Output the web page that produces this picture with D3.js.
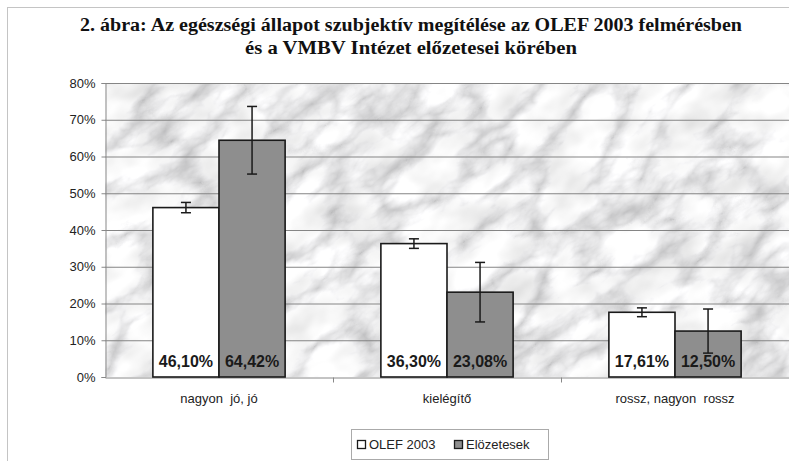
<!DOCTYPE html>
<html>
<head>
<meta charset="utf-8">
<script src="https://cdn.jsdelivr.net/npm/d3@7"></script>
<style>
  body { margin: 0; background: #fff; }
  svg { display: block; }
</style>
</head>
<body>
<svg id="chart"></svg>
<script>
// chart data
const categories = ["nagyon  jó, jó", "kielégítő", "rossz, nagyon  rossz"];
const seriesNames = ["OLEF 2003", "Elözetesek"];
const olefValues = [46.10, 36.30, 17.61];
const elozValues = [64.42, 23.08, 12.50];
const olefErrors = [1.4, 1.3, 1.2];
const elozErrors = [9.2, 8.1, 6.0];
const yTicks = [0, 10, 20, 30, 40, 50, 60, 70, 80];
const titleLines = [
  "2. ábra: Az egészségi állapot szubjektív megítélése az OLEF 2003 felmérésben",
  "és a VMBV Intézet előzetesei körében"
];

const width = 789, height = 461;
const plot = { left: 105, right: 789, top: 83, bottom: 377 };
const seriesColors = ["#ffffff", "#8e8e8e"];

const svg = d3.select("#chart")
  .attr("width", width)
  .attr("height", height);

const huFormat = d3.formatLocale({ decimal: ",", thousands: " ", grouping: [3], currency: ["", " Ft"] });
const pct2 = v => huFormat.format(".2f")(v) + "%";

// marble texture for the plot background: thin veins times a soft mottle
const defs = svg.append("defs");
const marble = defs.append("filter").attr("id", "marble")
  .attr("x", 0).attr("y", 0).attr("width", 1).attr("height", 1);
marble.append("feTurbulence")
  .attr("type", "turbulence")
  .attr("baseFrequency", "0.011 0.02")
  .attr("numOctaves", 5)
  .attr("seed", 11)
  .attr("result", "veins");
marble.append("feColorMatrix")
  .attr("in", "veins")
  .attr("type", "matrix")
  .attr("values", "1.1 0 0 0 0.6  1.1 0 0 0 0.6  1.1 0 0 0 0.61  0 0 0 0 1")
  .attr("result", "veinsGray");
marble.append("feTurbulence")
  .attr("type", "fractalNoise")
  .attr("baseFrequency", "0.02 0.03")
  .attr("numOctaves", 3)
  .attr("seed", 3)
  .attr("result", "mottle");
marble.append("feColorMatrix")
  .attr("in", "mottle")
  .attr("type", "matrix")
  .attr("values", "0.5 0 0 0 0.68  0.5 0 0 0 0.68  0.5 0 0 0 0.68  0 0 0 0 1")
  .attr("result", "mottleGray");
marble.append("feBlend")
  .attr("in", "veinsGray")
  .attr("in2", "mottleGray")
  .attr("mode", "multiply");
defs.append("clipPath").attr("id", "plotClip")
  .append("rect")
  .attr("x", plot.left).attr("y", plot.top)
  .attr("width", plot.right - plot.left).attr("height", plot.bottom - plot.top);

// outer frame
svg.append("rect")
  .attr("x", 7.5).attr("y", 7.5)
  .attr("width", width + 10).attr("height", height + 10)
  .attr("fill", "#fff").attr("stroke", "#c4c4c4");

svg.append("g").attr("clip-path", "url(#plotClip)")
  .append("rect")
  .attr("x", -200).attr("y", -300)
  .attr("width", 1400).attr("height", 1000)
  .attr("transform", "rotate(-35 447 230)")
  .attr("filter", "url(#marble)");

// title
const titleWidths = [662, 332];
svg.append("g").selectAll("text")
  .data(titleLines)
  .enter().append("text")
    .attr("x", 411)
    .attr("y", (d, i) => 31 + i * 23)
    .attr("text-anchor", "middle")
    .attr("font-family", "'Liberation Serif', 'DejaVu Serif', serif")
    .attr("font-weight", "bold")
    .attr("font-size", 18.5)
    .attr("textLength", (d, i) => titleWidths[i])
    .attr("lengthAdjust", "spacingAndGlyphs")
    .attr("fill", "#111")
    .text(d => d);

// scales
const x0 = d3.scaleBand().domain(categories).range([plot.left, plot.right]);
const x1 = d3.scaleBand().domain(seriesNames)
  .range([x0.bandwidth() * 0.21, x0.bandwidth() * 0.79]);
const y = d3.scaleLinear().domain([0, 80]).range([plot.bottom, plot.top]);

// gridlines
svg.append("g").selectAll("line")
  .data(yTicks.filter(t => t > 0))
  .enter().append("line")
    .attr("x1", plot.left).attr("x2", plot.right)
    .attr("y1", d => y(d) + 0.5).attr("y2", d => y(d) + 0.5)
    .attr("stroke", "#858585").attr("stroke-width", 1);

// y axis
const yAxis = svg.append("g")
  .attr("transform", `translate(${plot.left + 0.5},0)`)
  .call(d3.axisLeft(y).tickValues(yTicks).tickSize(4).tickFormat(d => d + "%"));
yAxis.select(".domain").attr("stroke", "#888");
yAxis.selectAll(".tick line").attr("stroke", "#888");
yAxis.selectAll(".tick text")
  .attr("x", -10)
  .attr("font-family", "'Liberation Sans', Arial, sans-serif")
  .attr("font-size", 13)
  .attr("fill", "#222");

// x axis
const xAxis = svg.append("g")
  .attr("transform", `translate(0,${plot.bottom + 0.5})`)
  .call(d3.axisBottom(x0).tickSize(0).tickPadding(16));
xAxis.select(".domain").attr("stroke", "#888");
xAxis.selectAll(".tick text")
  .attr("font-family", "'Liberation Sans', Arial, sans-serif")
  .attr("font-size", 13)
  .attr("fill", "#222")
  .style("white-space", "pre");
xAxis.selectAll(".sep")
  .data(categories.slice(1))
  .enter().append("line")
    .attr("class", "sep")
    .attr("x1", d => Math.round(x0(d)) + 0.5).attr("x2", d => Math.round(x0(d)) + 0.5)
    .attr("y1", 0).attr("y2", 5)
    .attr("stroke", "#888");

// bars
const rows = categories.map((c, i) => ({
  category: c,
  values: [
    { name: seriesNames[0], value: olefValues[i], err: olefErrors[i], color: seriesColors[0] },
    { name: seriesNames[1], value: elozValues[i], err: elozErrors[i], color: seriesColors[1] }
  ]
}));

const groups = svg.append("g").selectAll("g")
  .data(rows)
  .enter().append("g")
    .attr("transform", d => `translate(${x0(d.category)},0)`);

groups.selectAll("rect")
  .data(d => d.values)
  .enter().append("rect")
    .attr("x", d => x1(d.name))
    .attr("y", d => y(d.value))
    .attr("width", x1.bandwidth())
    .attr("height", d => y(0) - y(d.value))
    .attr("fill", d => d.color)
    .attr("stroke", "#1a1a1a")
    .attr("stroke-width", 1.6);

// error bars
const errs = groups.selectAll("g.err")
  .data(d => d.values)
  .enter().append("g")
    .attr("class", "err")
    .attr("transform", d => `translate(${x1(d.name) + x1.bandwidth() / 2},0)`)
    .attr("stroke", "#1a1a1a")
    .attr("stroke-width", 1.5);
errs.append("line")
  .attr("y1", d => y(d.value + d.err)).attr("y2", d => y(d.value - d.err));
errs.append("line")
  .attr("x1", -5).attr("x2", 5)
  .attr("y1", d => y(d.value + d.err)).attr("y2", d => y(d.value + d.err));
errs.append("line")
  .attr("x1", -5).attr("x2", 5)
  .attr("y1", d => y(d.value - d.err)).attr("y2", d => y(d.value - d.err));

// value labels
groups.selectAll("text.val")
  .data(d => d.values)
  .enter().append("text")
    .attr("class", "val")
    .attr("x", d => x1(d.name) + x1.bandwidth() / 2)
    .attr("y", plot.bottom - 10)
    .attr("text-anchor", "middle")
    .attr("font-family", "'Liberation Sans', Arial, sans-serif")
    .attr("font-weight", "bold")
    .attr("font-size", 16)
    .attr("fill", "#1a1a1a")
    .text(d => pct2(d.value));

// legend
const legend = svg.append("g").attr("transform", "translate(351,429)");
legend.append("rect")
  .attr("x", 0.5).attr("y", 0.5)
  .attr("width", 197).attr("height", 30)
  .attr("fill", "#fff").attr("stroke", "#aaa");
const legendX = [6, 103];
const items = legend.selectAll("g.item")
  .data(seriesNames)
  .enter().append("g")
    .attr("class", "item")
    .attr("transform", (d, i) => `translate(${legendX[i]},0)`);
items.append("rect")
  .attr("x", 0.5).attr("y", 11.5)
  .attr("width", 8).attr("height", 8)
  .attr("fill", (d, i) => seriesColors[i])
  .attr("stroke", "#1a1a1a").attr("stroke-width", 1.3);
items.append("text")
  .attr("x", 12).attr("y", 20)
  .attr("font-family", "'Liberation Sans', Arial, sans-serif")
  .attr("font-size", 13)
  .attr("fill", "#222")
  .text(d => d);
</script>
</body>
</html>
